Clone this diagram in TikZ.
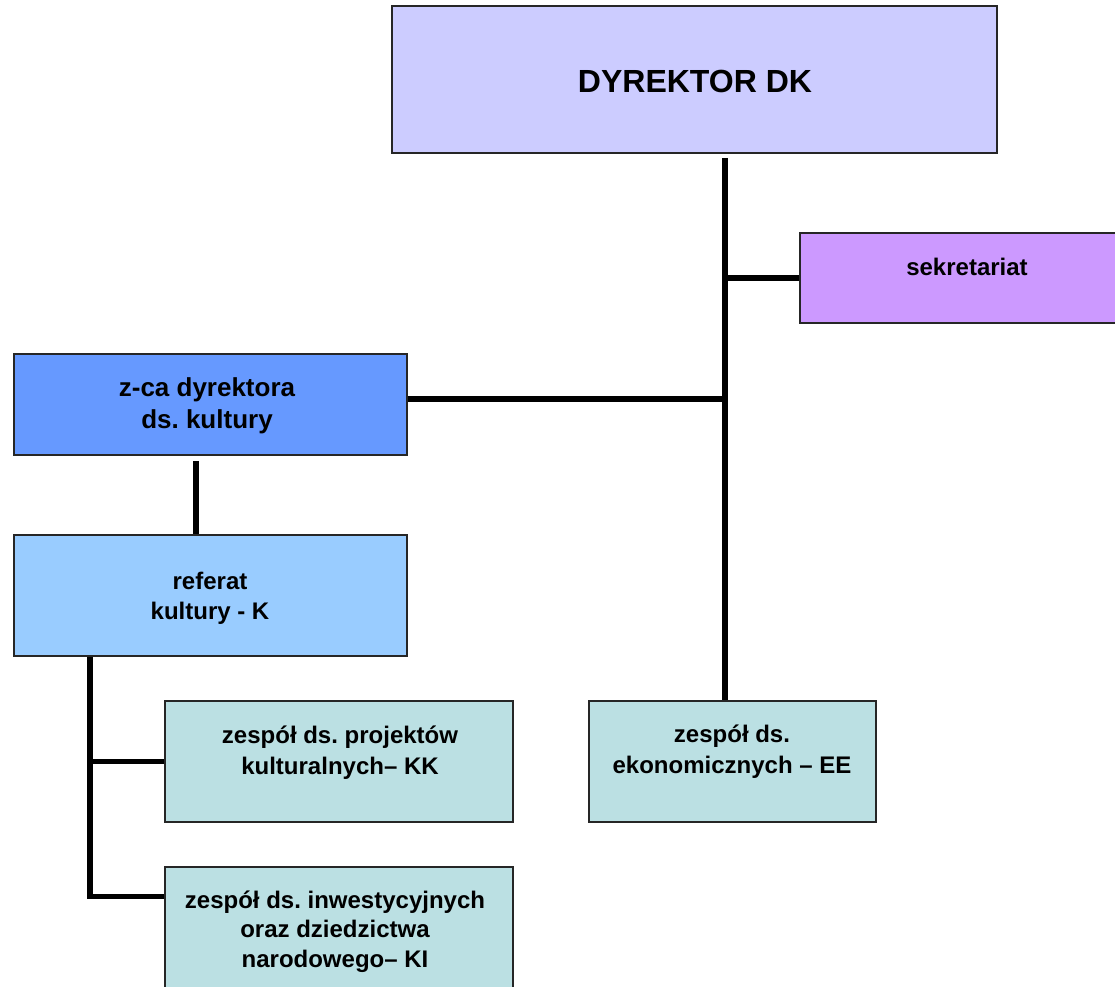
\documentclass[tikz,border=0pt]{standalone}
\usepackage{fontspec}
\setmainfont{Liberation Sans}
\usepackage{tikz}
\frenchspacing
\definecolor{dirfill}{HTML}{CCCCFF}
\definecolor{sekfill}{HTML}{CC99FF}
\definecolor{zcafill}{HTML}{6699FF}
\definecolor{reffill}{HTML}{99CCFF}
\definecolor{zesfill}{HTML}{BBE0E3}
\newcommand{\unitbox}[6]{ \node[draw=black!85, line width=1.5pt, fill=#2, inner sep=0pt, minimum width=#5pt, minimum height=#6pt] (#1) at ( #3 , #4 ) {};}
\newcommand{\unitlabel}[6]{ \node[align=center, inner sep=0pt, font=\fontsize{#4}{#5}\selectfont\bfseries] (#1) at ( #2 , #3 ) {#6};}
\newcommand{\link}[2]{ \draw[line width=5.5pt] #1 -- #2;}

\begin{document}
\begin{tikzpicture}[x=1pt,y=-1pt]
        \useasboundingbox (0,0) rectangle (1115,986);
        \clip (0,0) rectangle (1115,986);
        \coordinate (trunk) at (725,0);
        \coordinate (zbranch) at (196,0);
        \coordinate (rbranch) at (90,0);

        \unitbox{dir}{dirfill}{694.5}{79.5}{605}{147}
        \unitbox{sek}{sekfill}{965}{278}{330}{90}
        \unitbox{zca}{zcafill}{210.5}{404.5}{393}{101}
        \unitbox{ref}{reffill}{210.5}{595.5}{393}{121}
        \unitbox{kk}{zesfill}{339}{761.5}{348}{121}
        \unitbox{ki}{zesfill}{339}{927.5}{348}{121}
        \unitbox{ee}{zesfill}{732.5}{761.5}{287}{121}

        \unitlabel{dirl}{695}{81}{32}{38}{DYREKTOR DK}
        \unitlabel{sekl}{967}{267}{24}{30}{sekretariat}
        \unitlabel{zcal}{207}{406}{26}{32}{z-ca dyrektora\\ ds. kultury}
        \unitlabel{refl}{210}{598}{24}{30}{referat\\ kultury - K}
        \unitlabel{kkl}{340}{752.5}{24}{31}{zespół ds. projektów\\ kulturalnych– KK}
        \unitlabel{kil}{335}{931.5}{24}{29.5}{zespół ds. inwestycyjnych\\ oraz dziedzictwa\\ narodowego– KI}
        \unitlabel{eel}{732}{752}{24}{31}{zespół ds.\\ ekonomicznych – EE}

        \link{([yshift=-4pt]dir.south -| trunk)}{(ee.north -| trunk)}
        \link{(sek.west)}{(sek.west -| trunk)}
        \coordinate (zcaout) at ([yshift=5.5pt]zca.east);
        \link{(zcaout)}{(zcaout -| trunk)}
        \link{([yshift=-5pt]zca.south -| zbranch)}{(ref.north -| zbranch)}
        \coordinate (kiin) at ([yshift=-30pt]ki.north west);
        \draw[line width=5.5pt] (ref.south -| rbranch) |- (kiin);
        \link{(kk.west)}{(kk.west -| rbranch)}
    \end{tikzpicture}
\end{document}
